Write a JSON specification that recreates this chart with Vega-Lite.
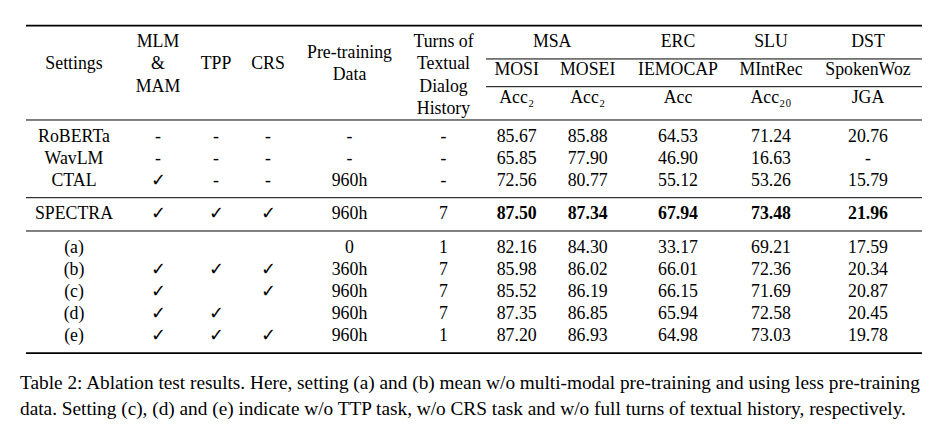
{
"$schema": "https://vega.github.io/schema/vega-lite/v6.json",
"padding": {"left": 20, "top": 20.1, "right": 10, "bottom": 5},
"background": "white",
"data": {"values": [
{"kind":"rule","row":"rule_top","span":"all"},
{"kind":"rule","row":"hdr_p","span":"tasks"},
{"kind":"rule","row":"rule_h2","span":"tasks"},
{"kind":"rule","row":"rule_mid","span":"all"},
{"kind":"rule","row":"rule_base","span":"all"},
{"kind":"rule","row":"rule_ours","span":"all"},
{"kind":"rule","row":"rule_bottom","span":"all"},
{"kind":"header","col":"Settings","row":"hdr_b","text":"Settings"},
{"kind":"header","col":"MLM","row":"hdr_a","text":"MLM\n&\nMAM"},
{"kind":"header","col":"TPP","row":"hdr_b","text":"TPP"},
{"kind":"header","col":"CRS","row":"hdr_b","text":"CRS"},
{"kind":"header","col":"Pre","row":"hdr_p","text":"Pre-training\nData"},
{"kind":"header","col":"Turns","row":"hdr_a","text":"Turns of\nTextual\nDialog\nHistory"},
{"kind":"group","col":"MSA","row":"hdr_a","text":"MSA"},
{"kind":"group","col":"IEMOCAP","row":"hdr_a","text":"ERC"},
{"kind":"group","col":"MIntRec","row":"hdr_a","text":"SLU"},
{"kind":"group","col":"SpokenWoz","row":"hdr_a","text":"DST"},
{"kind":"dataset","col":"MOSI","row":"hdr_b","text":"MOSI"},
{"kind":"dataset","col":"MOSEI","row":"hdr_b","text":"MOSEI"},
{"kind":"dataset","col":"IEMOCAP","row":"hdr_b","text":"IEMOCAP"},
{"kind":"dataset","col":"MIntRec","row":"hdr_b","text":"MIntRec"},
{"kind":"dataset","col":"SpokenWoz","row":"hdr_b","text":"SpokenWoz"},
{"kind":"metric","col":"MOSI","row":"hdr_d","text":"Acc₂"},
{"kind":"metric","col":"MOSEI","row":"hdr_d","text":"Acc₂"},
{"kind":"metric","col":"IEMOCAP","row":"hdr_d","text":"Acc"},
{"kind":"metric","col":"MIntRec","row":"hdr_d","text":"Acc₂₀"},
{"kind":"metric","col":"SpokenWoz","row":"hdr_d","text":"JGA"},
{"col":"Settings","row":"RoBERTa","text":"RoBERTa"},
{"col":"Settings","row":"WavLM","text":"WavLM"},
{"col":"Settings","row":"CTAL","text":"CTAL"},
{"col":"Settings","row":"SPECTRA","text":"SPECTRA"},
{"col":"Settings","row":"(a)","text":"(a)"},
{"col":"Settings","row":"(b)","text":"(b)"},
{"col":"Settings","row":"(c)","text":"(c)"},
{"col":"Settings","row":"(d)","text":"(d)"},
{"col":"Settings","row":"(e)","text":"(e)"},
{"col":"MLM","row":"RoBERTa","text":"-"},
{"col":"MLM","row":"WavLM","text":"-"},
{"col":"MLM","row":"CTAL","text":"✓"},
{"col":"MLM","row":"SPECTRA","text":"✓"},
{"col":"MLM","row":"(b)","text":"✓"},
{"col":"MLM","row":"(c)","text":"✓"},
{"col":"MLM","row":"(d)","text":"✓"},
{"col":"MLM","row":"(e)","text":"✓"},
{"col":"TPP","row":"RoBERTa","text":"-"},
{"col":"TPP","row":"WavLM","text":"-"},
{"col":"TPP","row":"CTAL","text":"-"},
{"col":"TPP","row":"SPECTRA","text":"✓"},
{"col":"TPP","row":"(b)","text":"✓"},
{"col":"TPP","row":"(d)","text":"✓"},
{"col":"TPP","row":"(e)","text":"✓"},
{"col":"CRS","row":"RoBERTa","text":"-"},
{"col":"CRS","row":"WavLM","text":"-"},
{"col":"CRS","row":"CTAL","text":"-"},
{"col":"CRS","row":"SPECTRA","text":"✓"},
{"col":"CRS","row":"(b)","text":"✓"},
{"col":"CRS","row":"(c)","text":"✓"},
{"col":"CRS","row":"(e)","text":"✓"},
{"col":"Pre","row":"RoBERTa","text":"-"},
{"col":"Pre","row":"WavLM","text":"-"},
{"col":"Pre","row":"CTAL","text":"960h"},
{"col":"Pre","row":"SPECTRA","text":"960h"},
{"col":"Pre","row":"(a)","text":"0"},
{"col":"Pre","row":"(b)","text":"360h"},
{"col":"Pre","row":"(c)","text":"960h"},
{"col":"Pre","row":"(d)","text":"960h"},
{"col":"Pre","row":"(e)","text":"960h"},
{"col":"Turns","row":"RoBERTa","text":"-"},
{"col":"Turns","row":"WavLM","text":"-"},
{"col":"Turns","row":"CTAL","text":"-"},
{"col":"Turns","row":"SPECTRA","text":"7"},
{"col":"Turns","row":"(a)","text":"1"},
{"col":"Turns","row":"(b)","text":"7"},
{"col":"Turns","row":"(c)","text":"7"},
{"col":"Turns","row":"(d)","text":"7"},
{"col":"Turns","row":"(e)","text":"1"},
{"col":"MOSI","row":"RoBERTa","text":"85.67"},
{"col":"MOSI","row":"WavLM","text":"65.85"},
{"col":"MOSI","row":"CTAL","text":"72.56"},
{"col":"MOSI","row":"SPECTRA","text":"87.50","best":true},
{"col":"MOSI","row":"(a)","text":"82.16"},
{"col":"MOSI","row":"(b)","text":"85.98"},
{"col":"MOSI","row":"(c)","text":"85.52"},
{"col":"MOSI","row":"(d)","text":"87.35"},
{"col":"MOSI","row":"(e)","text":"87.20"},
{"col":"MOSEI","row":"RoBERTa","text":"85.88"},
{"col":"MOSEI","row":"WavLM","text":"77.90"},
{"col":"MOSEI","row":"CTAL","text":"80.77"},
{"col":"MOSEI","row":"SPECTRA","text":"87.34","best":true},
{"col":"MOSEI","row":"(a)","text":"84.30"},
{"col":"MOSEI","row":"(b)","text":"86.02"},
{"col":"MOSEI","row":"(c)","text":"86.19"},
{"col":"MOSEI","row":"(d)","text":"86.85"},
{"col":"MOSEI","row":"(e)","text":"86.93"},
{"col":"IEMOCAP","row":"RoBERTa","text":"64.53"},
{"col":"IEMOCAP","row":"WavLM","text":"46.90"},
{"col":"IEMOCAP","row":"CTAL","text":"55.12"},
{"col":"IEMOCAP","row":"SPECTRA","text":"67.94","best":true},
{"col":"IEMOCAP","row":"(a)","text":"33.17"},
{"col":"IEMOCAP","row":"(b)","text":"66.01"},
{"col":"IEMOCAP","row":"(c)","text":"66.15"},
{"col":"IEMOCAP","row":"(d)","text":"65.94"},
{"col":"IEMOCAP","row":"(e)","text":"64.98"},
{"col":"MIntRec","row":"RoBERTa","text":"71.24"},
{"col":"MIntRec","row":"WavLM","text":"16.63"},
{"col":"MIntRec","row":"CTAL","text":"53.26"},
{"col":"MIntRec","row":"SPECTRA","text":"73.48","best":true},
{"col":"MIntRec","row":"(a)","text":"69.21"},
{"col":"MIntRec","row":"(b)","text":"72.36"},
{"col":"MIntRec","row":"(c)","text":"71.69"},
{"col":"MIntRec","row":"(d)","text":"72.58"},
{"col":"MIntRec","row":"(e)","text":"73.03"},
{"col":"SpokenWoz","row":"RoBERTa","text":"20.76"},
{"col":"SpokenWoz","row":"WavLM","text":"-"},
{"col":"SpokenWoz","row":"CTAL","text":"15.79"},
{"col":"SpokenWoz","row":"SPECTRA","text":"21.96","best":true},
{"col":"SpokenWoz","row":"(a)","text":"17.59"},
{"col":"SpokenWoz","row":"(b)","text":"20.34"},
{"col":"SpokenWoz","row":"(c)","text":"20.87"},
{"col":"SpokenWoz","row":"(d)","text":"20.45"},
{"col":"SpokenWoz","row":"(e)","text":"19.78"}
]},
"spacing": 0,
"bounds": "flush",
"resolve": {"scale": {"y": "shared"}},
"hconcat": [
{"width": 96, "height": 344.1,
 "transform": [{"filter": "datum.col == 'Settings' || (datum.kind == 'rule' && datum.span == 'all')"}],
 "layer": [
  {"transform": [{"filter": "datum.kind == 'rule' && datum.row != 'rule_top' && datum.row != 'hdr_p'"}],
   "mark": {"type": "rule", "color": "black"},
   "encoding": {"y": {"field": "row", "type": "nominal", "scale": {"type": "band", "domain": ["rule_top","g1","hdr_a","hdr_p","hdr_b","hdr_c","rule_h2","hdr_d","g8","rule_mid","RoBERTa","g11","WavLM","g13","CTAL","g15","rule_base","SPECTRA","g18","rule_ours","(a)","g21","(b)","g23","(c)","g25","(d)","g27","(e)","g29","rule_bottom"]}, "bandPosition": 0, "axis": null},
    "strokeWidth": {"condition": {"test": "datum.row == 'rule_bottom'", "value": 1.6}, "value": 1}}},
  {"transform": [{"filter": "datum.kind == 'rule' && (datum.row == 'rule_top' || datum.row == 'hdr_p')"}],
   "mark": {"type": "rule", "color": "black"},
   "encoding": {"y": {"field": "row", "type": "nominal", "scale": {"type": "band"}, "bandPosition": 0.5, "axis": null},
    "strokeWidth": {"condition": {"test": "datum.row == 'rule_top'", "value": 1.6}, "value": 1}}},
  {"transform": [{"filter": "datum.kind == 'header' || datum.kind == 'group' || datum.kind == 'metric'"}],
   "mark": {"type": "text", "lineBreak": "\n", "lineHeight": 22.2},
   "encoding": {"y": {"field": "row", "type": "nominal", "scale": {"type": "band"}, "bandPosition": 0, "axis": null}, "text": {"field": "text", "type": "nominal"}}},
  {"transform": [{"filter": "datum.kind == 'dataset' || !datum.kind"}],
   "mark": {"type": "text", "fontWeight": {"expr": "datum.best ? 'bold' : 'normal'"}},
   "encoding": {"y": {"field": "row", "type": "nominal", "scale": {"type": "band"}, "bandPosition": 0.5, "axis": null}, "text": {"field": "text", "type": "nominal"}}}
 ]},
{"width": 72, "height": 344.1,
 "transform": [{"filter": "datum.col == 'MLM' || (datum.kind == 'rule' && datum.span == 'all')"}],
 "layer": [
  {"transform": [{"filter": "datum.kind == 'rule' && datum.row != 'rule_top' && datum.row != 'hdr_p'"}],
   "mark": {"type": "rule", "color": "black"},
   "encoding": {"y": {"field": "row", "type": "nominal", "scale": {"type": "band"}, "bandPosition": 0, "axis": null},
    "strokeWidth": {"condition": {"test": "datum.row == 'rule_bottom'", "value": 1.6}, "value": 1}}},
  {"transform": [{"filter": "datum.kind == 'rule' && (datum.row == 'rule_top' || datum.row == 'hdr_p')"}],
   "mark": {"type": "rule", "color": "black"},
   "encoding": {"y": {"field": "row", "type": "nominal", "scale": {"type": "band"}, "bandPosition": 0.5, "axis": null},
    "strokeWidth": {"condition": {"test": "datum.row == 'rule_top'", "value": 1.6}, "value": 1}}},
  {"transform": [{"filter": "datum.kind == 'header' || datum.kind == 'group' || datum.kind == 'metric'"}],
   "mark": {"type": "text", "lineBreak": "\n", "lineHeight": 22.2},
   "encoding": {"y": {"field": "row", "type": "nominal", "scale": {"type": "band"}, "bandPosition": 0, "axis": null}, "text": {"field": "text", "type": "nominal"}}},
  {"transform": [{"filter": "datum.kind == 'dataset' || !datum.kind"}],
   "mark": {"type": "text", "fontWeight": {"expr": "datum.best ? 'bold' : 'normal'"}},
   "encoding": {"y": {"field": "row", "type": "nominal", "scale": {"type": "band"}, "bandPosition": 0.5, "axis": null}, "text": {"field": "text", "type": "nominal"}}}
 ]},
{"width": 44, "height": 344.1,
 "transform": [{"filter": "datum.col == 'TPP' || (datum.kind == 'rule' && datum.span == 'all')"}],
 "layer": [
  {"transform": [{"filter": "datum.kind == 'rule' && datum.row != 'rule_top' && datum.row != 'hdr_p'"}],
   "mark": {"type": "rule", "color": "black"},
   "encoding": {"y": {"field": "row", "type": "nominal", "scale": {"type": "band"}, "bandPosition": 0, "axis": null},
    "strokeWidth": {"condition": {"test": "datum.row == 'rule_bottom'", "value": 1.6}, "value": 1}}},
  {"transform": [{"filter": "datum.kind == 'rule' && (datum.row == 'rule_top' || datum.row == 'hdr_p')"}],
   "mark": {"type": "rule", "color": "black"},
   "encoding": {"y": {"field": "row", "type": "nominal", "scale": {"type": "band"}, "bandPosition": 0.5, "axis": null},
    "strokeWidth": {"condition": {"test": "datum.row == 'rule_top'", "value": 1.6}, "value": 1}}},
  {"transform": [{"filter": "datum.kind == 'header' || datum.kind == 'group' || datum.kind == 'metric'"}],
   "mark": {"type": "text", "lineBreak": "\n", "lineHeight": 22.2},
   "encoding": {"y": {"field": "row", "type": "nominal", "scale": {"type": "band"}, "bandPosition": 0, "axis": null}, "text": {"field": "text", "type": "nominal"}}},
  {"transform": [{"filter": "datum.kind == 'dataset' || !datum.kind"}],
   "mark": {"type": "text", "fontWeight": {"expr": "datum.best ? 'bold' : 'normal'"}},
   "encoding": {"y": {"field": "row", "type": "nominal", "scale": {"type": "band"}, "bandPosition": 0.5, "axis": null}, "text": {"field": "text", "type": "nominal"}}}
 ]},
{"width": 60, "height": 344.1,
 "transform": [{"filter": "datum.col == 'CRS' || (datum.kind == 'rule' && datum.span == 'all')"}],
 "layer": [
  {"transform": [{"filter": "datum.kind == 'rule' && datum.row != 'rule_top' && datum.row != 'hdr_p'"}],
   "mark": {"type": "rule", "color": "black"},
   "encoding": {"y": {"field": "row", "type": "nominal", "scale": {"type": "band"}, "bandPosition": 0, "axis": null},
    "strokeWidth": {"condition": {"test": "datum.row == 'rule_bottom'", "value": 1.6}, "value": 1}}},
  {"transform": [{"filter": "datum.kind == 'rule' && (datum.row == 'rule_top' || datum.row == 'hdr_p')"}],
   "mark": {"type": "rule", "color": "black"},
   "encoding": {"y": {"field": "row", "type": "nominal", "scale": {"type": "band"}, "bandPosition": 0.5, "axis": null},
    "strokeWidth": {"condition": {"test": "datum.row == 'rule_top'", "value": 1.6}, "value": 1}}},
  {"transform": [{"filter": "datum.kind == 'header' || datum.kind == 'group' || datum.kind == 'metric'"}],
   "mark": {"type": "text", "lineBreak": "\n", "lineHeight": 22.2},
   "encoding": {"y": {"field": "row", "type": "nominal", "scale": {"type": "band"}, "bandPosition": 0, "axis": null}, "text": {"field": "text", "type": "nominal"}}},
  {"transform": [{"filter": "datum.kind == 'dataset' || !datum.kind"}],
   "mark": {"type": "text", "fontWeight": {"expr": "datum.best ? 'bold' : 'normal'"}},
   "encoding": {"y": {"field": "row", "type": "nominal", "scale": {"type": "band"}, "bandPosition": 0.5, "axis": null}, "text": {"field": "text", "type": "nominal"}}}
 ]},
{"width": 103, "height": 344.1,
 "transform": [{"filter": "datum.col == 'Pre' || (datum.kind == 'rule' && datum.span == 'all')"}],
 "layer": [
  {"transform": [{"filter": "datum.kind == 'rule' && datum.row != 'rule_top' && datum.row != 'hdr_p'"}],
   "mark": {"type": "rule", "color": "black"},
   "encoding": {"y": {"field": "row", "type": "nominal", "scale": {"type": "band"}, "bandPosition": 0, "axis": null},
    "strokeWidth": {"condition": {"test": "datum.row == 'rule_bottom'", "value": 1.6}, "value": 1}}},
  {"transform": [{"filter": "datum.kind == 'rule' && (datum.row == 'rule_top' || datum.row == 'hdr_p')"}],
   "mark": {"type": "rule", "color": "black"},
   "encoding": {"y": {"field": "row", "type": "nominal", "scale": {"type": "band"}, "bandPosition": 0.5, "axis": null},
    "strokeWidth": {"condition": {"test": "datum.row == 'rule_top'", "value": 1.6}, "value": 1}}},
  {"transform": [{"filter": "datum.kind == 'header' || datum.kind == 'group' || datum.kind == 'metric'"}],
   "mark": {"type": "text", "lineBreak": "\n", "lineHeight": 21.7},
   "encoding": {"y": {"field": "row", "type": "nominal", "scale": {"type": "band"}, "bandPosition": 0, "axis": null}, "text": {"field": "text", "type": "nominal"}}},
  {"transform": [{"filter": "datum.kind == 'dataset' || !datum.kind"}],
   "mark": {"type": "text", "fontWeight": {"expr": "datum.best ? 'bold' : 'normal'"}},
   "encoding": {"y": {"field": "row", "type": "nominal", "scale": {"type": "band"}, "bandPosition": 0.5, "axis": null}, "text": {"field": "text", "type": "nominal"}}}
 ]},
{"width": 85, "height": 344.1,
 "transform": [{"filter": "datum.col == 'Turns' || (datum.kind == 'rule' && datum.span == 'all')"}],
 "layer": [
  {"transform": [{"filter": "datum.kind == 'rule' && datum.row != 'rule_top' && datum.row != 'hdr_p'"}],
   "mark": {"type": "rule", "color": "black"},
   "encoding": {"y": {"field": "row", "type": "nominal", "scale": {"type": "band"}, "bandPosition": 0, "axis": null},
    "strokeWidth": {"condition": {"test": "datum.row == 'rule_bottom'", "value": 1.6}, "value": 1}}},
  {"transform": [{"filter": "datum.kind == 'rule' && (datum.row == 'rule_top' || datum.row == 'hdr_p')"}],
   "mark": {"type": "rule", "color": "black"},
   "encoding": {"y": {"field": "row", "type": "nominal", "scale": {"type": "band"}, "bandPosition": 0.5, "axis": null},
    "strokeWidth": {"condition": {"test": "datum.row == 'rule_top'", "value": 1.6}, "value": 1}}},
  {"transform": [{"filter": "datum.kind == 'header' || datum.kind == 'group' || datum.kind == 'metric'"}],
   "mark": {"type": "text", "lineBreak": "\n", "lineHeight": 22.2},
   "encoding": {"y": {"field": "row", "type": "nominal", "scale": {"type": "band"}, "bandPosition": 0, "axis": null}, "text": {"field": "text", "type": "nominal"}}},
  {"transform": [{"filter": "datum.kind == 'dataset' || !datum.kind"}],
   "mark": {"type": "text", "fontWeight": {"expr": "datum.best ? 'bold' : 'normal'"}},
   "encoding": {"y": {"field": "row", "type": "nominal", "scale": {"type": "band"}, "bandPosition": 0.5, "axis": null}, "text": {"field": "text", "type": "nominal"}}}
 ]},
{"width": 142, "height": 344.1,
 "transform": [{"filter": "datum.col == 'MSA' || datum.col == 'MOSI' || datum.col == 'MOSEI' || datum.kind == 'rule'"}],
 "layer": [
  {"transform": [{"filter": "datum.kind == 'rule' && datum.row != 'rule_top' && datum.row != 'hdr_p'"}],
   "mark": {"type": "rule", "color": "black"},
   "encoding": {"y": {"field": "row", "type": "nominal", "scale": {"type": "band"}, "bandPosition": 0, "axis": null},
    "strokeWidth": {"condition": {"test": "datum.row == 'rule_bottom'", "value": 1.6}, "value": 1}}},
  {"transform": [{"filter": "datum.kind == 'rule' && (datum.row == 'rule_top' || datum.row == 'hdr_p')"}],
   "mark": {"type": "rule", "color": "black"},
   "encoding": {"y": {"field": "row", "type": "nominal", "scale": {"type": "band"}, "bandPosition": 0.5, "axis": null},
    "strokeWidth": {"condition": {"test": "datum.row == 'rule_top'", "value": 1.6}, "value": 1}}},
  {"transform": [{"filter": "datum.kind == 'header' || datum.kind == 'group' || datum.kind == 'metric'"}],
   "mark": {"type": "text", "lineBreak": "\n", "lineHeight": 22.2},
   "encoding": {"x": {"field": "col", "type": "nominal", "scale": {"type": "point", "domain": ["MOSI","MSA","MOSEI"], "padding": 1.088, "align": 0.432}, "axis": null},
    "y": {"field": "row", "type": "nominal", "scale": {"type": "band"}, "bandPosition": 0, "axis": null}, "text": {"field": "text", "type": "nominal"}}},
  {"transform": [{"filter": "datum.kind == 'dataset' || !datum.kind"}],
   "mark": {"type": "text", "fontWeight": {"expr": "datum.best ? 'bold' : 'normal'"}},
   "encoding": {"x": {"field": "col", "type": "nominal", "scale": {"type": "point"}, "axis": null},
    "y": {"field": "row", "type": "nominal", "scale": {"type": "band"}, "bandPosition": 0.5, "axis": null}, "text": {"field": "text", "type": "nominal"}}}
 ]},
{"width": 100, "height": 344.1,
 "transform": [{"filter": "datum.col == 'IEMOCAP' || datum.kind == 'rule'"}],
 "layer": [
  {"transform": [{"filter": "datum.kind == 'rule' && datum.row != 'rule_top' && datum.row != 'hdr_p'"}],
   "mark": {"type": "rule", "color": "black"},
   "encoding": {"y": {"field": "row", "type": "nominal", "scale": {"type": "band"}, "bandPosition": 0, "axis": null},
    "strokeWidth": {"condition": {"test": "datum.row == 'rule_bottom'", "value": 1.6}, "value": 1}}},
  {"transform": [{"filter": "datum.kind == 'rule' && (datum.row == 'rule_top' || datum.row == 'hdr_p')"}],
   "mark": {"type": "rule", "color": "black"},
   "encoding": {"y": {"field": "row", "type": "nominal", "scale": {"type": "band"}, "bandPosition": 0.5, "axis": null},
    "strokeWidth": {"condition": {"test": "datum.row == 'rule_top'", "value": 1.6}, "value": 1}}},
  {"transform": [{"filter": "datum.kind == 'header' || datum.kind == 'group' || datum.kind == 'metric'"}],
   "mark": {"type": "text", "lineBreak": "\n", "lineHeight": 22.2},
   "encoding": {"y": {"field": "row", "type": "nominal", "scale": {"type": "band"}, "bandPosition": 0, "axis": null}, "text": {"field": "text", "type": "nominal"}}},
  {"transform": [{"filter": "datum.kind == 'dataset' || !datum.kind"}],
   "mark": {"type": "text", "fontWeight": {"expr": "datum.best ? 'bold' : 'normal'"}},
   "encoding": {"y": {"field": "row", "type": "nominal", "scale": {"type": "band"}, "bandPosition": 0.5, "axis": null}, "text": {"field": "text", "type": "nominal"}}}
 ]},
{"width": 86, "height": 344.1,
 "transform": [{"filter": "datum.col == 'MIntRec' || datum.kind == 'rule'"}],
 "layer": [
  {"transform": [{"filter": "datum.kind == 'rule' && datum.row != 'rule_top' && datum.row != 'hdr_p'"}],
   "mark": {"type": "rule", "color": "black"},
   "encoding": {"y": {"field": "row", "type": "nominal", "scale": {"type": "band"}, "bandPosition": 0, "axis": null},
    "strokeWidth": {"condition": {"test": "datum.row == 'rule_bottom'", "value": 1.6}, "value": 1}}},
  {"transform": [{"filter": "datum.kind == 'rule' && (datum.row == 'rule_top' || datum.row == 'hdr_p')"}],
   "mark": {"type": "rule", "color": "black"},
   "encoding": {"y": {"field": "row", "type": "nominal", "scale": {"type": "band"}, "bandPosition": 0.5, "axis": null},
    "strokeWidth": {"condition": {"test": "datum.row == 'rule_top'", "value": 1.6}, "value": 1}}},
  {"transform": [{"filter": "datum.kind == 'header' || datum.kind == 'group' || datum.kind == 'metric'"}],
   "mark": {"type": "text", "lineBreak": "\n", "lineHeight": 22.2},
   "encoding": {"y": {"field": "row", "type": "nominal", "scale": {"type": "band"}, "bandPosition": 0, "axis": null}, "text": {"field": "text", "type": "nominal"}}},
  {"transform": [{"filter": "datum.kind == 'dataset' || !datum.kind"}],
   "mark": {"type": "text", "fontWeight": {"expr": "datum.best ? 'bold' : 'normal'"}},
   "encoding": {"y": {"field": "row", "type": "nominal", "scale": {"type": "band"}, "bandPosition": 0.5, "axis": null}, "text": {"field": "text", "type": "nominal"}}}
 ]},
{"width": 108, "height": 344.1,
 "transform": [{"filter": "datum.col == 'SpokenWoz' || datum.kind == 'rule'"}],
 "layer": [
  {"transform": [{"filter": "datum.kind == 'rule' && datum.row != 'rule_top' && datum.row != 'hdr_p'"}],
   "mark": {"type": "rule", "color": "black"},
   "encoding": {"y": {"field": "row", "type": "nominal", "scale": {"type": "band"}, "bandPosition": 0, "axis": null},
    "strokeWidth": {"condition": {"test": "datum.row == 'rule_bottom'", "value": 1.6}, "value": 1}}},
  {"transform": [{"filter": "datum.kind == 'rule' && (datum.row == 'rule_top' || datum.row == 'hdr_p')"}],
   "mark": {"type": "rule", "color": "black"},
   "encoding": {"y": {"field": "row", "type": "nominal", "scale": {"type": "band"}, "bandPosition": 0.5, "axis": null},
    "strokeWidth": {"condition": {"test": "datum.row == 'rule_top'", "value": 1.6}, "value": 1}}},
  {"transform": [{"filter": "datum.kind == 'header' || datum.kind == 'group' || datum.kind == 'metric'"}],
   "mark": {"type": "text", "lineBreak": "\n", "lineHeight": 22.2},
   "encoding": {"y": {"field": "row", "type": "nominal", "scale": {"type": "band"}, "bandPosition": 0, "axis": null}, "text": {"field": "text", "type": "nominal"}}},
  {"transform": [{"filter": "datum.kind == 'dataset' || !datum.kind"}],
   "mark": {"type": "text", "fontWeight": {"expr": "datum.best ? 'bold' : 'normal'"}},
   "encoding": {"y": {"field": "row", "type": "nominal", "scale": {"type": "band"}, "bandPosition": 0.5, "axis": null}, "text": {"field": "text", "type": "nominal"}}}
 ]}
],
"title": {
 "text": ["Table 2: Ablation test results. Here, setting (a) and (b) mean w/o multi-modal pre-training and using less pre-training", "data. Setting (c), (d) and (e) indicate w/o TTP task, w/o CRS task and w/o full turns of textual history, respectively."],
 "orient": "bottom", "anchor": "start", "frame": "group", "offset": 10,
 "font": "Liberation Serif", "fontSize": 19.3, "fontWeight": "normal", "color": "black", "lineHeight": 26
},
"config": {
 "view": {"stroke": null},
 "title": {"dx": -6},
 "text": {"font": "Liberation Serif", "fontSize": 17.8, "color": "black"},
 "scale": {"bandPaddingInner": 0, "bandPaddingOuter": 0}
}
}
